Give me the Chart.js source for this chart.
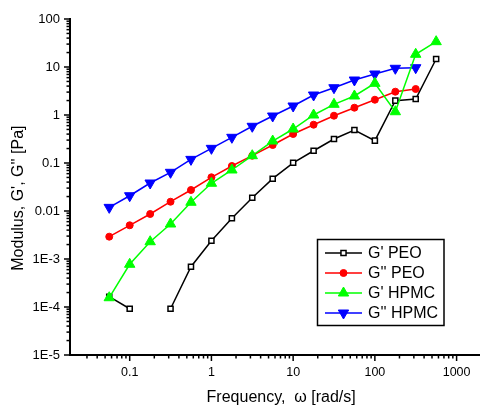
<!DOCTYPE html>
<html><head><meta charset="utf-8">
<script src="https://cdn.jsdelivr.net/npm/chart.js@4.4.1/dist/chart.umd.min.js"></script>
<style>html,body{margin:0;padding:0;background:#fff;}#wrap{width:489px;height:408px;}</style>
</head><body><div id="wrap"><canvas id="c" width="489" height="408"></canvas></div>
<script>
// Angular frequency, rad/s
const freq = [0.0562, 0.1, 0.178, 0.316, 0.562, 1, 1.78, 3.16, 5.62, 10, 17.8, 31.6, 56.2, 100, 178, 316, 562];
// Moduli, Pa
const gpPEO   = [1.64e-4, 9.2e-5, null, 9.2e-5, 6.9e-4, 2.4e-3, 7.05e-3, 0.0189, 0.0471, 0.101, 0.180, 0.316, 0.487, 0.292, 1.99, 2.15, 14.7];
const gppPEO  = [0.00292, 0.00504, 0.00866, 0.0156, 0.0274, 0.0504, 0.0866, 0.142, 0.237, 0.402, 0.628, 0.967, 1.42, 2.08, 3.06, 3.48];
const gpHPMC  = [1.56e-4, 7.76e-4, 2.29e-3, 5.36e-3, 0.0152, 0.0378, 0.0715, 0.142, 0.287, 0.511, 1.0, 1.67, 2.49, 4.57, 1.17, 18.4, 33.7];
const gppHPMC = [0.0119, 0.0208, 0.0383, 0.064, 0.119, 0.202, 0.343, 0.582, 0.953, 1.54, 2.61, 3.7, 5.36, 7.15, 9.4, 9.67];
const seriesNames = ["G' PEO", "G'' PEO", "G' HPMC", "G'' HPMC"];
const xTickValues = [0.1, 1, 10, 100, 1000];
const xTickText   = ['0.1', '1', '10', '100', '1000'];
const yTickValues = [1e-5, 1e-4, 1e-3, 0.01, 0.1, 1, 10, 100];
const yTickText   = ['1E-5', '1E-4', '1E-3', '0.01', '0.1', '1', '10', '100'];

const FONT = "'Liberation Sans', Arial, Helvetica, sans-serif";

function pts(vals) { return vals.map((v, i) => ({ x: freq[i], y: v })); }
function lookup(v, values, texts) {
  for (let i = 0; i < values.length; i++) {
    if (Math.abs(v - values[i]) / values[i] < 1e-6) return texts[i];
  }
  return '';
}

const tickPlugin = {
  id: 'logTickMarks',
  afterDraw(chart) {
    const ctx = chart.ctx, ca = chart.chartArea;
    ctx.save();
    ctx.strokeStyle = '#000';
    ctx.lineWidth = 1.5;
    ['x', 'y'].forEach(id => {
      const s = chart.scales[id];
      s.ticks.forEach(t => {
        const v = t.value;
        const e = Math.floor(Math.log10(v) + 1e-9);
        const m = v / Math.pow(10, e);
        if (Math.abs(m - Math.round(m)) > 1e-6) return;
        const major = Math.abs(m - 1) < 1e-6 || Math.abs(m - 10) < 1e-6;
        const len = major ? 6 : 3.5;
        const p = s.getPixelForValue(v);
        ctx.beginPath();
        if (id === 'x') { ctx.moveTo(p, ca.bottom); ctx.lineTo(p, ca.bottom + len); }
        else { ctx.moveTo(ca.left, p); ctx.lineTo(ca.left - len, p); }
        ctx.stroke();
      });
    });
    ctx.restore();
  }
};

const legendPlugin = {
  id: 'boxLegend',
  afterDraw(chart) {
    const ctx = chart.ctx;
    ctx.save();
    ctx.lineWidth = 1.5;
    ctx.strokeStyle = '#000';
    ctx.strokeRect(317.5, 239.5, 126.5, 86);
    chart.data.datasets.forEach((ds, i) => {
      const y = 253 + i * 20;
      ctx.strokeStyle = ds.borderColor;
      ctx.lineWidth = ds.borderWidth;
      ctx.beginPath(); ctx.moveTo(325, y); ctx.lineTo(362, y); ctx.stroke();
      ctx.fillStyle = ds.pointBackgroundColor;
      ctx.strokeStyle = ds.pointBorderColor;
      ctx.lineWidth = ds.pointBorderWidth;
      Chart.helpers.drawPoint(ctx, {
        pointStyle: ds.pointStyle, rotation: ds.pointRotation || 0,
        radius: ds.pointRadius, borderWidth: ds.pointBorderWidth
      }, 343.5, y);
      ctx.fillStyle = '#000';
      ctx.font = '16px ' + FONT;
      ctx.textBaseline = 'middle';
      ctx.textAlign = 'left';
      ctx.fillText(ds.label, 368, y + 1);
    });
    ctx.restore();
  }
};

const common = { borderWidth: 1.5, pointBorderWidth: 1, fill: false, tension: 0, spanGaps: false };

new Chart(document.getElementById('c'), {
  type: 'line',
  data: {
    datasets: [
      Object.assign({}, common, { label: seriesNames[0], data: pts(gpPEO), borderColor: '#000000',
        pointStyle: 'rect', pointRadius: 3.6, pointBackgroundColor: '#ffffff', pointBorderColor: '#000000', pointBorderWidth: 1.5, order: 4 }),
      Object.assign({}, common, { label: seriesNames[1], data: pts(gppPEO), borderColor: '#ff0000',
        pointStyle: 'circle', pointRadius: 3.5, pointBackgroundColor: '#ff0000', pointBorderColor: '#ff0000', order: 3 }),
      Object.assign({}, common, { label: seriesNames[2], data: pts(gpHPMC), borderColor: '#00ff00',
        pointStyle: 'triangle', pointRadius: 6, pointBackgroundColor: '#00ff00', pointBorderColor: '#00ff00', order: 1 }),
      Object.assign({}, common, { label: seriesNames[3], data: pts(gppHPMC), borderColor: '#0000ff',
        pointStyle: 'triangle', pointRotation: 180, pointRadius: 6, pointBackgroundColor: '#0000ff', pointBorderColor: '#0000ff', order: 2 })
    ]
  },
  options: {
    responsive: false,
    animation: false,
    devicePixelRatio: 1,
    layout: { padding: { top: 19, right: 0, left: 0, bottom: 0 } },
    plugins: { legend: { display: false }, tooltip: { enabled: false } },
    elements: { line: { borderWidth: 1.5 } },
    scales: {
      x: {
        type: 'logarithmic', position: 'bottom', min: 0.0186, max: 1880,
        grid: { display: false, drawTicks: false },
        border: { display: true, color: '#000', width: 2 },
        ticks: { autoSkip: false, maxRotation: 0, minRotation: 0, padding: 10, color: '#000',
          font: { family: FONT, size: 12.5 }, callback: v => lookup(v, xTickValues, xTickText) },
        title: { display: true, text: '   Frequency,  \u03c9 [rad/s]', color: '#000',
          font: { family: FONT, size: 16 }, padding: { top: 0, bottom: 1 } },
        afterFit: s => { s.height = 53; }
      },
      y: {
        type: 'logarithmic', position: 'left', min: 1e-5, max: 100,
        grid: { display: false, drawTicks: false },
        border: { display: true, color: '#000', width: 2 },
        ticks: { autoSkip: false, padding: 10, color: '#000',
          font: { family: FONT, size: 13 }, callback: v => lookup(v, yTickValues, yTickText) },
        title: { display: true, text: "Modulus, G', G'' [Pa]     ", color: '#000',
          font: { family: FONT, size: 16 }, padding: { top: 9, bottom: 0 } },
        afterFit: s => { s.width = 70; }
      }
    }
  },
  plugins: [tickPlugin, legendPlugin]
});
</script>
</body></html>
